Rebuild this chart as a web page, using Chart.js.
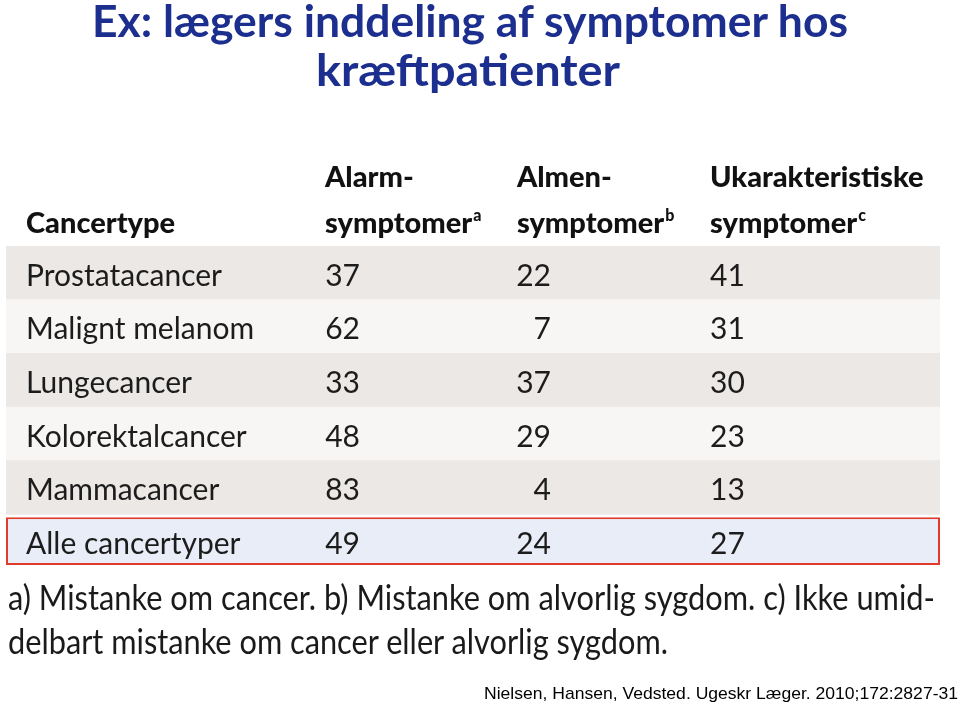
<!DOCTYPE html>
<html>
<head>
<meta charset="utf-8">
<script src="https://cdn.jsdelivr.net/npm/chart.js@4/dist/chart.umd.min.js"></script>
<style>
  body { margin: 0; background: #fff; width: 960px; height: 707px; overflow: hidden; position: relative; }
  #wrap { position: absolute; left: 0; top: 0; width: 960px; height: 707px; }
  .line { position: absolute; display: inline-block; white-space: nowrap; line-height: 1; transform-origin: left top; }
  .title { font-family: Lato, sans-serif; font-weight: bold; font-size: 44px; color: #1c2f8f; }
  .note { font-family: Lato, sans-serif; font-size: 34px; color: #1a1a1a; }
  .ref { font-family: "Liberation Sans", Arial, sans-serif; font-size: 17px; color: #000; }
</style>
</head>
<body>
<div id="wrap"><canvas id="myChart"></canvas></div>

<div class="line title" data-w="756" style="left:92px; top:-2px;">Ex: lægers inddeling af symptomer hos</div>
<div class="line title" data-w="304" style="left:316px; top:47px;">kræftpatienter</div>

<div class="line note" data-w="927" style="left:8px; top:580px;">a) Mistanke om cancer. b) Mistanke om alvorlig sygdom. c) Ikke umid-</div>
<div class="line note" data-w="660" style="left:8px; top:624px;">delbart mistanke om cancer eller alvorlig sygdom.</div>

<div class="line ref" data-w="474" style="left:484px; top:685px;">Nielsen, Hansen, Vedsted. Ugeskr Læger. 2010;172:2827-31</div>

<script>
// table data
const cancerTypes = ['Prostatacancer', 'Malignt melanom', 'Lungecancer', 'Kolorektalcancer', 'Mammacancer', 'Alle cancertyper'];
const alarm = [37, 62, 33, 48, 83, 49];
const almen = [22, 7, 37, 29, 4, 24];
const ukarakteristiske = [41, 31, 30, 23, 13, 27];
const columnHeads = [['', 'Cancertype'], ['Alarm-', 'symptomer'], ['Almen-', 'symptomer'], ['Ukarakteristiske', 'symptomer']];
const footMarks = ['', 'a', 'b', 'c'];

// column positions as fraction of table width
const headLeft = [0.0214, 0.3415, 0.547, 0.7537];
const numberRight = [0.379, 0.5835, 0.791];

const rowColors = ['#ebe8e6', '#f8f6f4', '#ebe8e6', '#f8f6f4', '#ebe8e6'];

const tableText = {
  id: 'tableText',
  afterDatasetsDraw(chart) {
    const { ctx, chartArea, scales: { x, y } } = chart;
    ctx.save();
    ctx.fillStyle = '#1c1c1c';
    ctx.font = '30px Lato';
    ctx.textAlign = 'right';
    ctx.textBaseline = 'middle';
    [alarm, almen, ukarakteristiske].forEach((vals, c) => {
      const px = x.getPixelForValue(numberRight[c]);
      vals.forEach((v, i) => {
        ctx.fillText(String(v), px, y.getPixelForValue(i) + 3);
      });
    });

    ctx.fillStyle = '#111';
    ctx.textAlign = 'left';
    ctx.textBaseline = 'alphabetic';
    columnHeads.forEach((h, c) => {
      const px = x.getPixelForValue(headLeft[c]);
      ctx.font = '900 29px Lato';
      if (h[0]) ctx.fillText(h[0], px, chartArea.top - 59);
      ctx.fillText(h[1], px, chartArea.top - 13);
      if (footMarks[c]) {
        const w = ctx.measureText(h[1]).width;
        ctx.font = '900 16px Lato';
        ctx.fillText(footMarks[c], px + w + 1, chartArea.top - 25);
      }
    });
    ctx.restore();
  }
};

const ctx = document.getElementById('myChart').getContext('2d');
new Chart(ctx, {
  type: 'bar',
  data: {
    labels: cancerTypes,
    datasets: [
      {
        data: cancerTypes.map((c, i) => i < 5 ? [0, 1] : null),
        backgroundColor: rowColors,
        barPercentage: 1,
        categoryPercentage: 1,
        grouped: false
      },
      {
        data: cancerTypes.map((c, i) => i == 5 ? [0, 1] : null),
        backgroundColor: '#e9edf7',
        borderColor: '#e03b2b',
        borderWidth: 2,
        borderSkipped: false,
        barPercentage: 0.89,
        categoryPercentage: 1,
        grouped: false
      }
    ]
  },
  options: {
    indexAxis: 'y',
    responsive: true,
    maintainAspectRatio: false,
    animation: false,
    events: [],
    layout: { padding: { left: 6, right: 20, top: 246, bottom: 139 } },
    plugins: { legend: { display: false }, tooltip: { enabled: false } },
    scales: {
      x: { type: 'linear', min: 0, max: 1, display: false },
      y: {
        type: 'category',
        grid: { display: false },
        border: { display: false },
        afterFit(scale) { scale.width = 0; },
        ticks: {
          mirror: true,
          padding: 20,
          labelOffset: 3,
          z: 1,
          color: '#1c1c1c',
          font: { family: 'Lato', size: 30 }
        }
      }
    }
  },
  plugins: [tableText]
});

function fitLine(el) {
  el.style.transform = 'none';
  const natural = el.getBoundingClientRect().width;
  el.style.transform = 'scaleX(' + (+el.dataset.w / natural) + ')';
}
document.querySelectorAll('.line').forEach(fitLine);
document.fonts.ready.then(() => document.querySelectorAll('.line').forEach(fitLine));
</script>
</body>
</html>
